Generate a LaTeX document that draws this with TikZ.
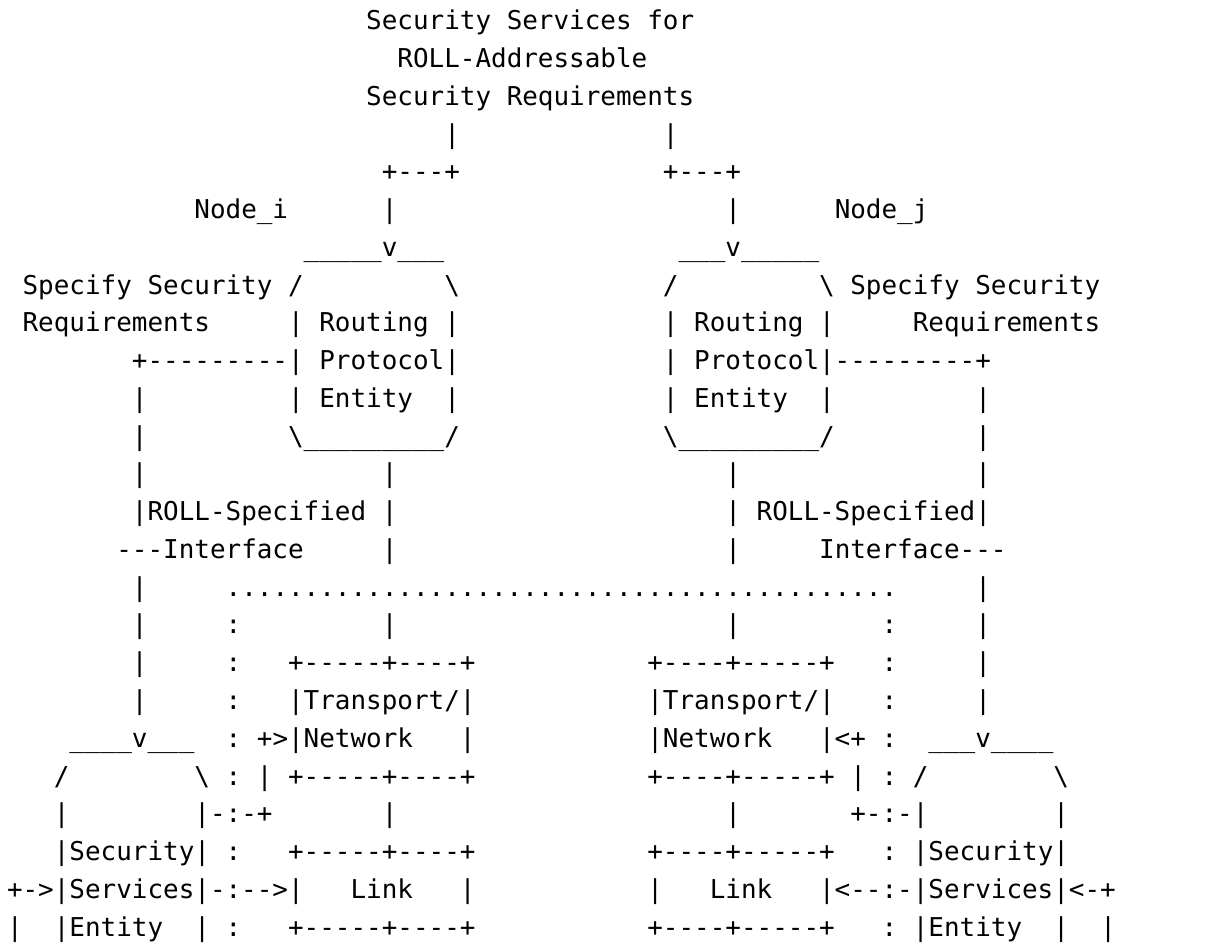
\documentclass[tikz,border=0pt]{standalone}
\usepackage{fontspec}
\setmonofont{DejaVu Sans Mono}
\tikzset{
  txt/.style={anchor=base west, inner sep=0pt, outer sep=0pt,
    font=\fontsize{12.97pt}{18.875pt}\selectfont\ttfamily\frenchspacing, text=black}
}
\newcommand\seg[4]{\node[txt] (#1) at ({3.5pt+#2*7.809pt},{-15pt-#3*18.875pt}) {#4};}
\newcommand\bs{\textbackslash}
\begin{document}
\begin{tikzpicture}
\useasboundingbox[fill=white] (0,0) rectangle (605pt,-472.5pt);
% title
\seg{t1}{23}{0}{Security Services for}
\seg{t2}{25}{1}{ROLL-Addressable}
\seg{t3}{23}{2}{Security Requirements}
% row 3-5
\seg{r3a}{28}{3}{|}
\seg{r3b}{42}{3}{|}
\seg{r4a}{24}{4}{+---+}
\seg{r4b}{42}{4}{+---+}
\seg{ni}{12}{5}{Node\_i}
\seg{r5a}{24}{5}{|}
\seg{r5b}{46}{5}{|}
\seg{nj}{53}{5}{Node\_j}
% routing protocol entities
\seg{r6a}{19}{6}{\_\_\_\_\_v\_\_\_}
\seg{r6b}{43}{6}{\_\_\_v\_\_\_\_\_}
\seg{r7a}{1}{7}{Specify Security /}
\seg{r7b}{28}{7}{\bs}
\seg{r7c}{42}{7}{/}
\seg{r7d}{52}{7}{\bs{} Specify Security}
\seg{r8a}{1}{8}{Requirements}
\seg{r8b}{18}{8}{| Routing |}
\seg{r8c}{42}{8}{| Routing |}
\seg{r8d}{58}{8}{Requirements}
\seg{r9a}{8}{9}{+---------| Protocol|}
\seg{r9b}{42}{9}{| Protocol|---------+}
\seg{r10a}{8}{10}{|}
\seg{r10b}{18}{10}{| Entity~~|}
\seg{r10c}{42}{10}{| Entity~~|}
\seg{r10d}{62}{10}{|}
\seg{r11a}{8}{11}{|}
\seg{r11b}{18}{11}{\bs\_\_\_\_\_\_\_\_\_/}
\seg{r11c}{42}{11}{\bs\_\_\_\_\_\_\_\_\_/}
\seg{r11d}{62}{11}{|}
\seg{r12a}{8}{12}{|}
\seg{r12b}{24}{12}{|}
\seg{r12c}{46}{12}{|}
\seg{r12d}{62}{12}{|}
\seg{r13a}{8}{13}{|ROLL-Specified |}
\seg{r13b}{46}{13}{| ROLL-Specified|}
\seg{r14a}{7}{14}{---Interface}
\seg{r14b}{24}{14}{|}
\seg{r14c}{46}{14}{|}
\seg{r14d}{52}{14}{Interface---}
\seg{r15a}{8}{15}{|}
\seg{r15b}{14}{15}{..........................................\relax.}
\seg{r15c}{62}{15}{|}
\seg{r16a}{8}{16}{|}
\seg{r16b}{14}{16}{:}
\seg{r16c}{24}{16}{|}
\seg{r16d}{46}{16}{|}
\seg{r16e}{56}{16}{:}
\seg{r16f}{62}{16}{|}
\seg{r17a}{8}{17}{|}
\seg{r17b}{14}{17}{:}
\seg{r17c}{18}{17}{+-----+----+}
\seg{r17d}{41}{17}{+----+-----+}
\seg{r17e}{56}{17}{:}
\seg{r17f}{62}{17}{|}
\seg{r18a}{8}{18}{|}
\seg{r18b}{14}{18}{:}
\seg{r18c}{18}{18}{|Transport/|}
\seg{r18d}{41}{18}{|Transport/|}
\seg{r18e}{56}{18}{:}
\seg{r18f}{62}{18}{|}
\seg{r19a}{4}{19}{\_\_\_\_v\_\_\_}
\seg{r19b}{14}{19}{:}
\seg{r19c}{16}{19}{+>|Network~~~|}
\seg{r19d}{41}{19}{|Network~~~|<+}
\seg{r19e}{56}{19}{:}
\seg{r19f}{59}{19}{\_\_\_v\_\_\_\_}
\seg{r20a}{3}{20}{/}
\seg{r20b}{12}{20}{\bs}
\seg{r20c}{14}{20}{:}
\seg{r20d}{16}{20}{|}
\seg{r20e}{18}{20}{+-----+----+}
\seg{r20f}{41}{20}{+----+-----+}
\seg{r20g}{54}{20}{|}
\seg{r20h}{56}{20}{:}
\seg{r20i}{58}{20}{/}
\seg{r20j}{67}{20}{\bs}
\seg{r21a}{3}{21}{|}
\seg{r21b}{12}{21}{|-:-+}
\seg{r21c}{24}{21}{|}
\seg{r21d}{46}{21}{|}
\seg{r21e}{54}{21}{+-:-|}
\seg{r21f}{67}{21}{|}
\seg{r22a}{3}{22}{|Security|}
\seg{r22b}{14}{22}{:}
\seg{r22c}{18}{22}{+-----+----+}
\seg{r22d}{41}{22}{+----+-----+}
\seg{r22e}{56}{22}{:}
\seg{r22f}{58}{22}{|Security|}
\seg{r23a}{0}{23}{+->|Services|-:-->|~~~Link~~~|}
\seg{r23b}{41}{23}{|~~~Link~~~|<--:-|Services|<-+}
\seg{r24a}{0}{24}{|}
\seg{r24b}{3}{24}{|Entity~~|}
\seg{r24c}{14}{24}{:}
\seg{r24d}{18}{24}{+-----+----+}
\seg{r24e}{41}{24}{+----+-----+}
\seg{r24f}{56}{24}{:}
\seg{r24g}{58}{24}{|Entity~~|}
\seg{r24h}{70}{24}{|}
\end{tikzpicture}
\end{document}
